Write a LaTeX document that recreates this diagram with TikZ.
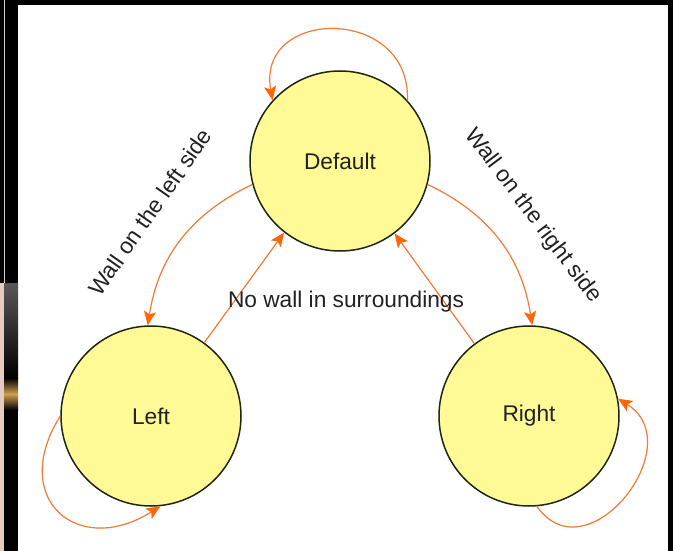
\documentclass[tikz,border=0pt]{standalone}
\usepackage{fontspec}
\setmainfont{Liberation Sans}
\usetikzlibrary{arrows.meta}
\definecolor{statefill}{RGB}{255,250,150}
\definecolor{stateline}{RGB}{30,38,20}
\definecolor{edgeorange}{RGB}{242,122,52}
\definecolor{headorange}{RGB}{255,102,10}
\definecolor{labelgray}{RGB}{34,34,34}
\definecolor{stripPink}{RGB}{230,204,192}
\definecolor{glowGold}{RGB}{205,160,80}
\tikzset{
  state/.style={circle, draw=stateline, line width=1.5pt, fill=statefill,
    minimum size=180pt, inner sep=0pt, text=labelgray,
    font=\fontsize{22.7}{27}\selectfont},
  trans/.style={draw=edgeorange, line width=1.2pt,
    -{Stealth[length=14pt,width=12pt,inset=3pt,color=headorange]}},
  edgelabel/.style={text=labelgray, inner sep=0pt,
    font=\fontsize{22.7}{27}\selectfont},
}
\begin{document}
\begin{tikzpicture}[x=1pt,y=-1pt]
\useasboundingbox (0,0) rectangle (673,551);
% slide frame
\fill[black] (0,0) rectangle (673,551);
\fill[white] (18,5) rectangle (668,551);
\fill[white!80!black] (4,0) rectangle (5,283);
\fill[stripPink] (0,283) rectangle (4,551);
\shade[top color=black!65, bottom color=black] (4,283) rectangle (18,378);
\shade[top color=black, bottom color=glowGold] (4,378) rectangle (18,394);
\shade[top color=glowGold, bottom color=black] (4,394) rectangle (18,410);

% states
\node[state] (def) at (340,161) {Default};
\node[state] (lft) at (151,416) {Left};
\node[state] (rgt) at (529,416) {Right};

% transitions
\draw[trans] (def.195) to[bend right=28] (lft.92);
\draw[trans] (def.345) to[bend left=28] (rgt.88);
\draw[trans] (lft.54) -- (def.232);
\draw[trans] (rgt.127) -- (def.307);

% self loops
\draw[trans] (def.42) to[out=88,in=100,looseness=1.8] (def.138);
\draw[trans] (lft.180) to[out=238,in=212,looseness=1.85] (lft.276);
\draw[trans] (rgt.275) to[out=305,in=328,looseness=1.65] (rgt.11);

% labels
\node[edgelabel, rotate=55] (lblL) at (150,212) {Wall on the left side};
\node[edgelabel, rotate=-53] (lblR) at (533,216) {Wall on the right side};
\node[edgelabel] (lblN) at (346,302) {No wall in surroundings};
\end{tikzpicture}
\end{document}
